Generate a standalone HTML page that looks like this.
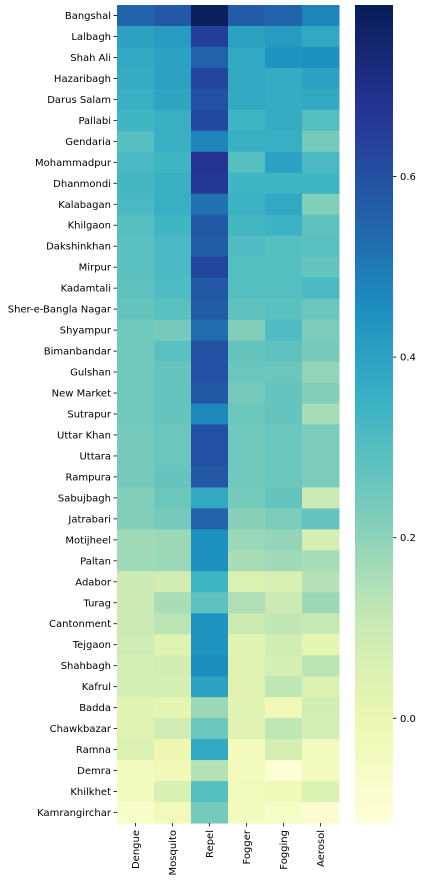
<!DOCTYPE html>
<html>
<head>
<meta charset="utf-8">
<style>
  html, body { margin: 0; padding: 0; background: #fff; }
  svg { display: block; font-family: "DejaVu Sans", "Liberation Sans", sans-serif; }
</style>
</head>
<body>
<svg id="chart" width="425" height="882"></svg>
<script>
const rowLabels = ["Bangshal","Lalbagh","Shah Ali","Hazaribagh","Darus Salam","Pallabi","Gendaria","Mohammadpur","Dhanmondi","Kalabagan","Khilgaon","Dakshinkhan","Mirpur","Kadamtali","Sher-e-Bangla Nagar","Shyampur","Bimanbandar","Gulshan","New Market","Sutrapur","Uttar Khan","Uttara","Rampura","Sabujbagh","Jatrabari","Motijheel","Paltan","Adabor","Turag","Cantonment","Tejgaon","Shahbagh","Kafrul","Badda","Chawkbazar","Ramna","Demra","Khilkhet","Kamrangirchar"];
const colLabels = ["Dengue","Mosquito","Repel","Fogger","Fogging","Aerosol"];
const dengue   = [0.55,0.40,0.38,0.37,0.36,0.34,0.30,0.32,0.33,0.32,0.30,0.29,0.29,0.28,0.27,0.25,0.25,0.25,0.25,0.25,0.24,0.24,0.24,0.22,0.22,0.17,0.17,0.10,0.10,0.10,0.09,0.07,0.07,0.03,0.04,0.05,-0.04,-0.04,-0.07];
const mosquito = [0.58,0.42,0.40,0.40,0.39,0.36,0.36,0.34,0.36,0.36,0.34,0.32,0.32,0.31,0.29,0.24,0.29,0.27,0.27,0.27,0.26,0.26,0.27,0.26,0.24,0.18,0.18,0.08,0.16,0.13,0.04,0.08,0.07,0.02,0.09,-0.01,-0.02,0.06,-0.03];
const repel    = [0.78,0.65,0.55,0.63,0.60,0.62,0.48,0.68,0.67,0.52,0.58,0.57,0.63,0.58,0.57,0.53,0.60,0.60,0.58,0.47,0.60,0.60,0.58,0.38,0.55,0.45,0.45,0.34,0.28,0.44,0.44,0.46,0.40,0.18,0.26,0.38,0.14,0.30,0.24];
const fogger   = [0.57,0.40,0.38,0.38,0.38,0.34,0.36,0.30,0.34,0.35,0.33,0.31,0.30,0.30,0.28,0.22,0.27,0.26,0.24,0.26,0.25,0.25,0.25,0.24,0.21,0.18,0.16,0.05,0.15,0.10,0.03,0.04,0.04,0.03,0.04,-0.04,-0.04,-0.03,-0.04];
const fogging  = [0.55,0.42,0.44,0.37,0.37,0.37,0.36,0.40,0.34,0.38,0.35,0.30,0.30,0.30,0.29,0.31,0.28,0.26,0.27,0.27,0.26,0.26,0.26,0.27,0.23,0.19,0.17,0.06,0.10,0.12,0.08,0.07,0.12,-0.02,0.12,0.07,-0.10,-0.02,-0.06];
const aerosol  = [0.48,0.38,0.45,0.40,0.38,0.30,0.24,0.32,0.34,0.22,0.28,0.29,0.27,0.32,0.26,0.23,0.24,0.19,0.22,0.16,0.23,0.23,0.23,0.10,0.27,0.07,0.16,0.14,0.18,0.11,0.02,0.13,0.05,0.08,0.07,-0.04,-0.04,0.05,-0.09];
const cbTicks = [0.0, 0.2, 0.4, 0.6];
const cbTickLabels = ["0.0","0.2","0.4","0.6"];

const series = [dengue, mosquito, repel, fogger, fogging, aerosol];
const vmin = -0.116, vmax = 0.79;
const X0 = 117, X1 = 339, Y0 = 5, Y1 = 823;
const CBX0 = 355, CBX1 = 393;
const NS = "http://www.w3.org/2000/svg";
const svg = document.getElementById("chart");

const stops = ["#ffffd9","#edf8b1","#c7e9b4","#7fcdbb","#41b6c4","#1d91c0","#225ea8","#253494","#081d58"];
function hex(h){return [1,3,5].map(i=>parseInt(h.substr(i,2),16));}
const stopRGB = stops.map(hex);
function color(v){
  let t = (v - vmin) / (vmax - vmin);
  t = Math.max(0, Math.min(1, t)) * (stops.length - 1);
  const i = Math.min(stops.length - 2, Math.floor(t)), f = t - i;
  const a = stopRGB[i], b = stopRGB[i+1];
  return "rgb(" + a.map((c,k)=>Math.round(c + (b[k]-c)*f)).join(",") + ")";
}
const nR = rowLabels.length, nC = colLabels.length;
const cw = (X1 - X0) / nC, rh = (Y1 - Y0) / nR;
function xPos(c){ return X0 + c * cw; }
function yPos(r){ return Y0 + r * rh; }
function cbY(v){ return Y1 - (v - vmin) / (vmax - vmin) * (Y1 - Y0); }

function mk(tag, attrs){
  const e = document.createElementNS(NS, tag);
  for (const k in attrs) e.setAttribute(k, attrs[k]);
  svg.appendChild(e);
  return e;
}

for (let c = 0; c < nC; c++) {
  for (let r = 0; r < nR; r++) {
    const rect = mk("rect", {x: xPos(c), y: yPos(r), width: cw + 0.5, height: rh + 0.5, fill: color(series[c][r])});
    
    
  }
}
for (let r = 0; r < nR; r++) {
  const y = yPos(r) + rh / 2;
  const tk = mk("line", {x1: X0 - 3.5, x2: X0, y1: y, y2: y, stroke: "#000", "stroke-width": 0.8});
  
  
  const t = mk("text", {x: X0 - 6, y: y + 3.5, "text-anchor": "end", "font-size": 10, fill: "#000"});
  t.textContent = rowLabels[r];
  
  
}
for (let c = 0; c < nC; c++) {
  const x = xPos(c) + cw / 2;
  const tk = mk("line", {x1: x, x2: x, y1: Y1, y2: Y1 + 3.5, stroke: "#000", "stroke-width": 0.8});
  
  
  const t = mk("text", {x: 0, y: 0, "text-anchor": "end", "font-size": 10, fill: "#000",
    transform: "translate(" + (x + 3.5) + "," + (Y1 + 7) + ") rotate(-90)"});
  t.textContent = colLabels[c];
  
  
}
// colorbar
const N = 200;
for (let i = 0; i < N; i++) {
  const v0 = vmin + (vmax - vmin) * i / N, v1 = vmin + (vmax - vmin) * (i + 1) / N;
  const seg = mk("rect", {x: CBX0, y: cbY(v1), width: CBX1 - CBX0, height: cbY(v0) - cbY(v1) + 0.6, fill: color((v0 + v1) / 2)});
  
  
}
for (let i = 0; i < cbTicks.length; i++) {
  const y = cbY(cbTicks[i]);
  const tk = mk("line", {x1: CBX1, x2: CBX1 + 3.5, y1: y, y2: y, stroke: "#000", "stroke-width": 0.8});
  
  
  const t = mk("text", {x: CBX1 + 7, y: y + 3.5, "font-size": 10, fill: "#000"});
  t.textContent = cbTickLabels[i];
  
  
}
</script>
</body>
</html>
